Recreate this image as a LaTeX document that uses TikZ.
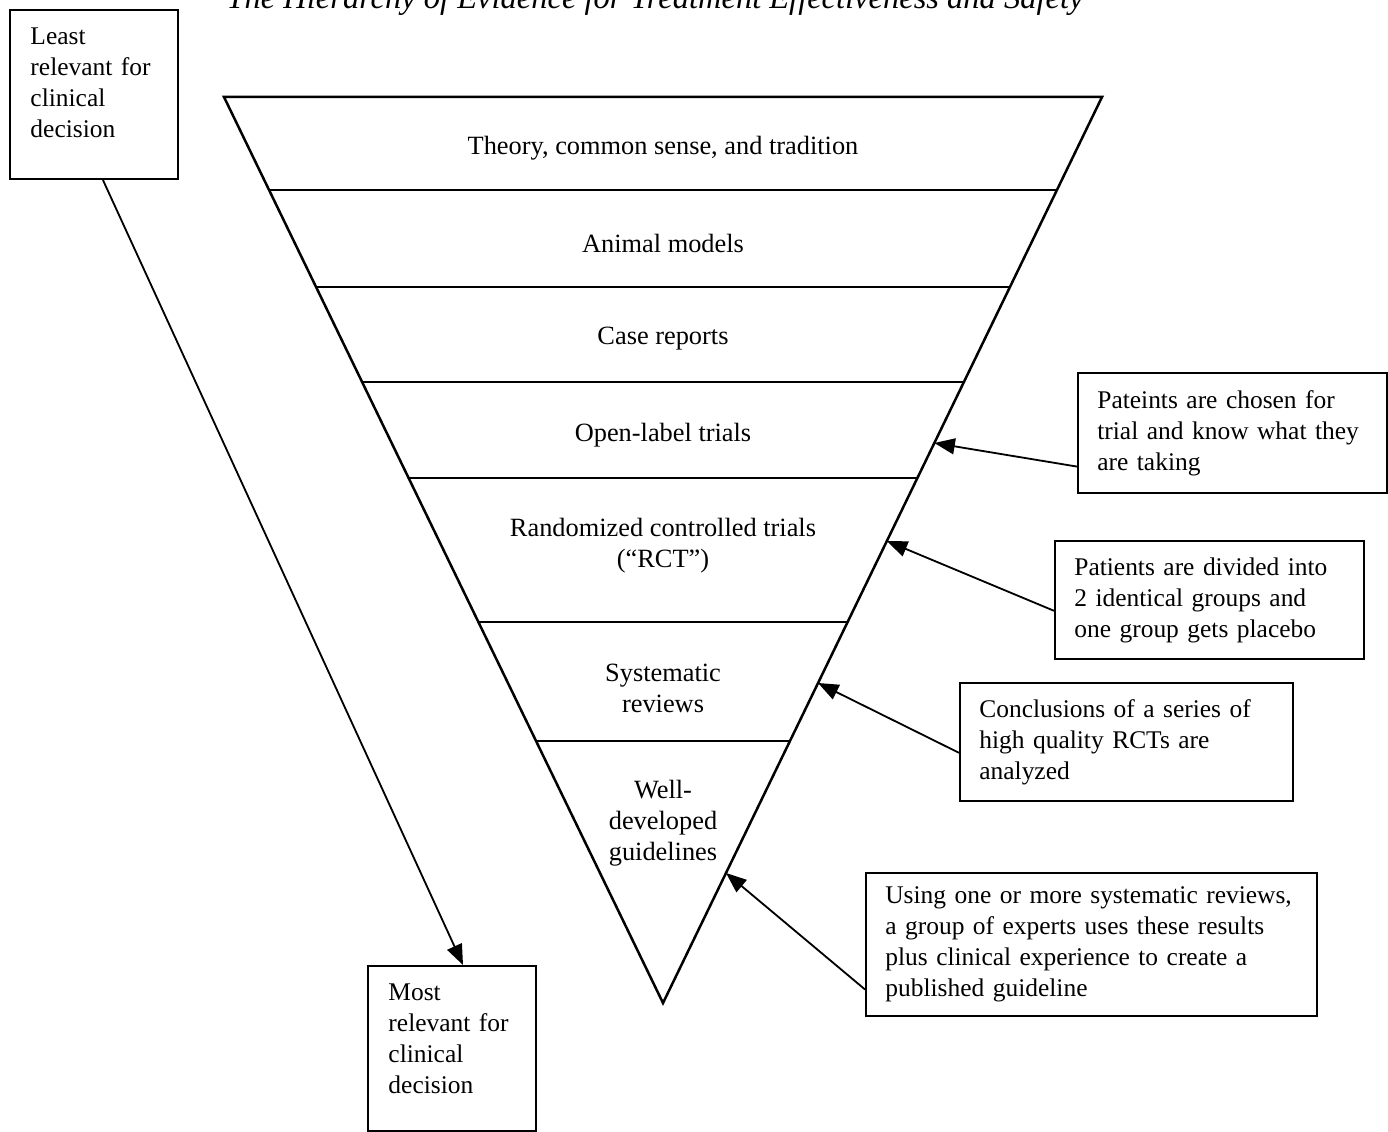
\documentclass[tikz,border=0pt]{standalone}
\usepackage{fontspec}
\setmainfont{Liberation Serif}
\usetikzlibrary{calc, arrows.meta}

\begin{document}
\begin{tikzpicture}[x=0.44pt,y=-0.44pt,line join=miter,
    level/.style={align=center,font=\fontsize{11.6}{13.64}\selectfont},
    notebox/.style={draw,line width=0.9pt,anchor=north west,align=left,inner xsep=8.5pt,inner ysep=0pt,
        font=\fontsize{11.2}{13.64}\selectfont},
    pointer/.style={-{Triangle[length=9pt,width=7pt]},line width=0.8pt}]
            \useasboundingbox (0,0) rectangle (1388,1132);

            %%% TITLE (cut at the top) %%%
            \node[font=\itshape\fontsize{14.3}{16}\selectfont,anchor=base] (title) at (655,9)
                {The Hierarchy of Evidence for Treatment Effectiveness and Safety};

            %%% TRIANGLE %%%
            \coordinate (tl) at (224,97);
            \coordinate (tr) at (1102,97);
            \coordinate (apex) at (663,1003);
            \draw[line width=1.1pt] (tl) -- (tr) -- (apex) -- cycle;

            % dividing lines
            \foreach \t in {0.1026,0.2097,0.3146,0.4205,0.5795,0.7108}
                \draw[line width=0.9pt] ($(tl)!\t!(apex)$) -- ($(tr)!\t!(apex)$);

            % levels
            \node[level] (theory)  at (663,148) {Theory, common sense, and tradition};
            \node[level] (animal)  at (663,243) {Animal models};
            \node[level] (cases)   at (663,339) {Case reports};
            \node[level] (open)    at (663,435) {Open-label trials};
            \node[level] (rct)     at (663,546) {Randomized controlled trials\\(“RCT”)};
            \node[level] (sysrev)  at (663,688) {Systematic\\reviews};
            \node[level] (guide)   at (663,823) {Well-\\developed\\guidelines};

            % points on the right side
            \coordinate (popen)   at ($(tr)!0.3819!(apex)$);
            \coordinate (prct)    at ($(tr)!0.4901!(apex)$);
            \coordinate (psysrev) at ($(tr)!0.6468!(apex)$);
            \coordinate (pguide)  at ($(tr)!0.8565!(apex)$);

            %%% BOXES %%%
            % relevance
            \node[notebox,inner xsep=9pt,text width=55.9pt,text depth=51.6pt,minimum height=74.4pt] (least) at (9,9)
                {Least\\relevant for\\clinical\\decision};
            \node[notebox,inner xsep=9pt,text width=55.9pt,text depth=49.8pt,minimum height=72.6pt] (most) at (367,965)
                {Most\\relevant for\\clinical\\decision};

            % explanations
            \node[notebox,text width=119pt,minimum height=52.8pt] (nopen) at (1077,372)
                {Pateints are chosen for\\trial and know what they\\are taking};
            \node[notebox,text width=119pt,minimum height=51.9pt] (nrct) at (1054,540)
                {Patients are divided into\\2 identical groups and\\one group gets placebo};
            \node[notebox,text width=129.5pt,minimum height=51.9pt] (nsysrev) at (959,682)
                {Conclusions of a series of\\high quality RCTs are\\analyzed};
            \node[notebox,text width=181.4pt,minimum height=62.9pt] (nguide) at (865,872)
                {Using one or more systematic reviews,\\a group of experts uses these results\\plus clinical experience to create a\\published guideline};

            %%% ARROWS %%%
            \draw[pointer] ($(least.south)+(9,0)$) -- ($(most.north)+(11,0)$);
            \draw[pointer] ($(nopen.south west)!0.225!(nopen.north west)$) -- (popen);
            \draw[pointer] ($(nrct.south west)!0.41!(nrct.north west)$) -- (prct);
            \draw[pointer] ($(nsysrev.south west)!0.41!(nsysrev.north west)$) -- (psysrev);
            \draw[pointer] ($(nguide.south west)!0.19!(nguide.north west)$) -- (pguide);
\end{tikzpicture}
\end{document}
